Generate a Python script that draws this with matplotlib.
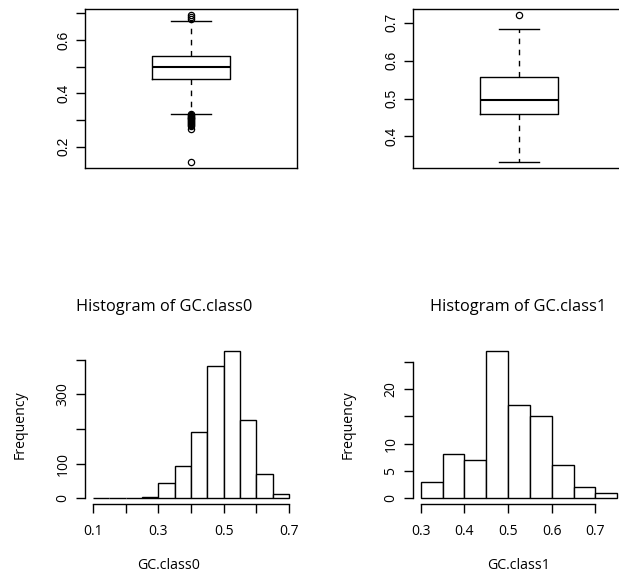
import numpy as np
import matplotlib.pyplot as plt

# values
gc0_edges = [0.10, 0.15, 0.20, 0.25, 0.30, 0.35, 0.40, 0.45, 0.50, 0.55, 0.60, 0.65, 0.70]
gc0_counts = [1, 0, 0, 4, 43, 94, 192, 381, 426, 227, 71, 11]
gc1_edges = [0.30, 0.35, 0.40, 0.45, 0.50, 0.55, 0.60, 0.65, 0.70, 0.75]
gc1_counts = [3, 8, 7, 27, 17, 15, 6, 2, 1]

# boxplot summaries: lower whisker, Q1, median, Q3, upper whisker
gc0_stats = [0.324, 0.4525, 0.500, 0.541, 0.671]
gc0_outliers = [0.678, 0.685, 0.694,
                0.321, 0.318, 0.315, 0.312, 0.309, 0.306, 0.303, 0.300,
                0.297, 0.293, 0.290, 0.286, 0.282, 0.278, 0.265, 0.142]
gc1_stats = [0.332, 0.459, 0.4965, 0.558, 0.683]
gc1_outliers = [0.721]

gc0_box_ticks = [0.2, 0.3, 0.4, 0.5, 0.6, 0.7]
gc0_box_labels = ['0.2', '', '0.4', '', '0.6', '']
gc1_box_ticks = [0.4, 0.5, 0.6, 0.7]
gc1_box_labels = ['0.4', '0.5', '0.6', '0.7']

gc0_hist_yticks = [0, 100, 200, 300, 400]
gc0_hist_ylabels = ['0', '100', '', '300', '']
gc0_hist_xticks = [0.1, 0.2, 0.3, 0.4, 0.5, 0.6, 0.7]
gc0_hist_xlabels = ['0.1', '', '0.3', '', '0.5', '', '0.7']
gc1_hist_yticks = [0, 5, 10, 15, 20, 25]
gc1_hist_ylabels = ['0', '5', '10', '', '20', '']
gc1_hist_xticks = [0.3, 0.4, 0.5, 0.6, 0.7]
gc1_hist_xlabels = ['0.3', '0.4', '0.5', '0.6', '0.7']

W, H = 619, 579
HUM = ['Open Sans', 'DejaVu Sans']
GEO = ['Liberation Sans', 'DejaVu Sans']
LW = 1.0


def px_axes(fig, x0, y0, x1, y1):
    return fig.add_axes([x0 / W, (H - y1) / H, (x1 - x0) / W, (y1 - y0) / H])


def box_panel(ax, stats, outliers, yticks, ylabels):
    lo, q1, med, q3, hi = stats
    st = dict(whislo=lo, q1=q1, med=med, q3=q3, whishi=hi, fliers=outliers)
    ax.bxp([st], positions=[1], widths=0.4, capwidths=0.2, manage_ticks=False,
           boxprops=dict(color='black', lw=LW),
           whiskerprops=dict(color='black', lw=LW, linestyle=(0, (4, 4))),
           capprops=dict(color='black', lw=LW),
           medianprops=dict(color='black', lw=1.5),
           flierprops=dict(marker='o', mfc='none', mec='black', ms=4.5, mew=0.9))
    allv = stats + outliers
    pad = 0.04 * (max(allv) - min(allv))
    ax.set_ylim(min(allv) - pad, max(allv) + pad)
    ax.set_xlim(0.46, 1.54)
    ax.set_xticks([])
    ax.set_yticks(yticks)
    ax.set_yticklabels(ylabels, rotation=90, va='center', family=GEO, fontsize=10)
    ax.tick_params(axis='y', direction='out', length=6.5, width=LW, pad=4)
    for s in ax.spines.values():
        s.set_linewidth(LW)


def hist_panel(ax, edges, counts, xticks, xlabels, yticks, ylabels, title, xlab, title_x, xlab_x):
    edges = np.array(edges)
    ax.bar(edges[:-1], counts, width=np.diff(edges), align='edge',
           facecolor='white', edgecolor='black', lw=LW)
    xpad = 0.04 * (edges[-1] - edges[0])
    ax.set_xlim(edges[0] - xpad, edges[-1] + xpad)
    ymax = max(counts)
    ax.set_ylim(-0.04 * ymax, 1.04 * ymax)
    ax.set_xticks(xticks)
    ax.set_xticklabels(xlabels, family=HUM, fontsize=10)
    ax.set_yticks(yticks)
    ax.set_yticklabels(ylabels, rotation=90, va='center', family=HUM, fontsize=10)
    ax.tick_params(direction='out', length=6.5, width=LW)
    ax.tick_params(axis='x', pad=8)
    ax.tick_params(axis='y', pad=4)
    ax.spines['top'].set_visible(False)
    ax.spines['right'].set_visible(False)
    ax.spines['left'].set_bounds(yticks[0], yticks[-1])
    ax.spines['bottom'].set_bounds(xticks[0], xticks[-1])
    ax.spines['left'].set_linewidth(LW)
    ax.spines['bottom'].set_linewidth(LW)
    ax.text(title_x, 1.236, title, transform=ax.transAxes, ha='center', va='center',
            family=HUM, fontsize=11.8)
    ax.text(xlab_x, -0.384, xlab, transform=ax.transAxes, ha='center', va='center',
            family=HUM, fontsize=10.2)
    ax.text(-0.307, 0.5, 'Frequency', transform=ax.transAxes, ha='center', va='center',
            rotation=90, family=HUM, fontsize=10.2)


fig = plt.figure(figsize=(W / 100, H / 100), dpi=100)

ax1 = px_axes(fig, 85, 9, 297, 168)
box_panel(ax1, gc0_stats, gc0_outliers, gc0_box_ticks, gc0_box_labels)

ax2 = px_axes(fig, 413, 9, 625, 168)
box_panel(ax2, gc1_stats, gc1_outliers, gc1_box_ticks, gc1_box_labels)

ax3 = px_axes(fig, 85, 345, 297, 504)
hist_panel(ax3, gc0_edges, gc0_counts, gc0_hist_xticks, gc0_hist_xlabels,
           gc0_hist_yticks, gc0_hist_ylabels, 'Histogram of GC.class0', 'GC.class0', 0.373, 0.392)

ax4 = px_axes(fig, 413, 345, 625, 504)
hist_panel(ax4, gc1_edges, gc1_counts, gc1_hist_xticks, gc1_hist_xlabels,
           gc1_hist_yticks, gc1_hist_ylabels, 'Histogram of GC.class1', 'GC.class1', 0.498, 0.5)

fig.savefig('out.png', dpi=100)
